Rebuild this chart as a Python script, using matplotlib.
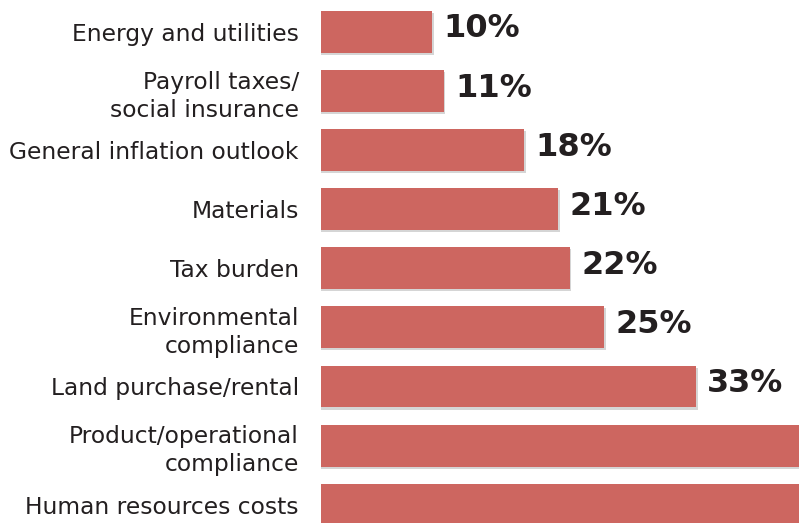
import matplotlib
matplotlib.use("Agg")
from matplotlib import pyplot as plt
from matplotlib import patheffects as pe
import numpy as np

# data, top to bottom
categories = [
    "Energy and utilities",
    "Payroll taxes/\nsocial insurance",
    "General inflation outlook",
    "Materials",
    "Tax burden",
    "Environmental\ncompliance",
    "Land purchase/rental",
    "Product/operational\ncompliance",
    "Human resources costs",
]
values = [10, 11, 18, 21, 22, 25, 33, 44, 48]

bar_color = "#CD6660"
text_color = "#231F20"

fig = plt.figure(figsize=(7.99, 5.23), dpi=100)
ax = fig.add_axes([321 / 799, 0, 478 / 799, 1])

xmax = 42.0
y = np.arange(len(categories))
bars = ax.barh(y, values, height=0.71, color=bar_color, left=0)
for b in bars:
    b.set_path_effects([pe.SimplePatchShadow(offset=(1.2, -1.5), shadow_rgbFace="#888888", alpha=0.35),
                        pe.Normal()])

# value labels only where they fall inside the picture (last bars run off the edge)
for yi, v in zip(y, values):
    if v + 7 < xmax:
        ax.text(v + 1.0, yi - 0.05, f"{v}%", va="center", ha="left",
                fontsize=23, fontweight="bold", color=text_color)

ax.set_xlim(0.3, xmax)
ax.set_ylim(8.31, -0.54)

ax.set_yticks(y)
ax.set_yticklabels(categories, fontsize=16.8, color=text_color, linespacing=1.3)
ax.tick_params(axis="y", length=0, pad=16)
ax.set_xticks([])
for s in ax.spines.values():
    s.set_visible(False)

fig.savefig("out.png", dpi=100)
